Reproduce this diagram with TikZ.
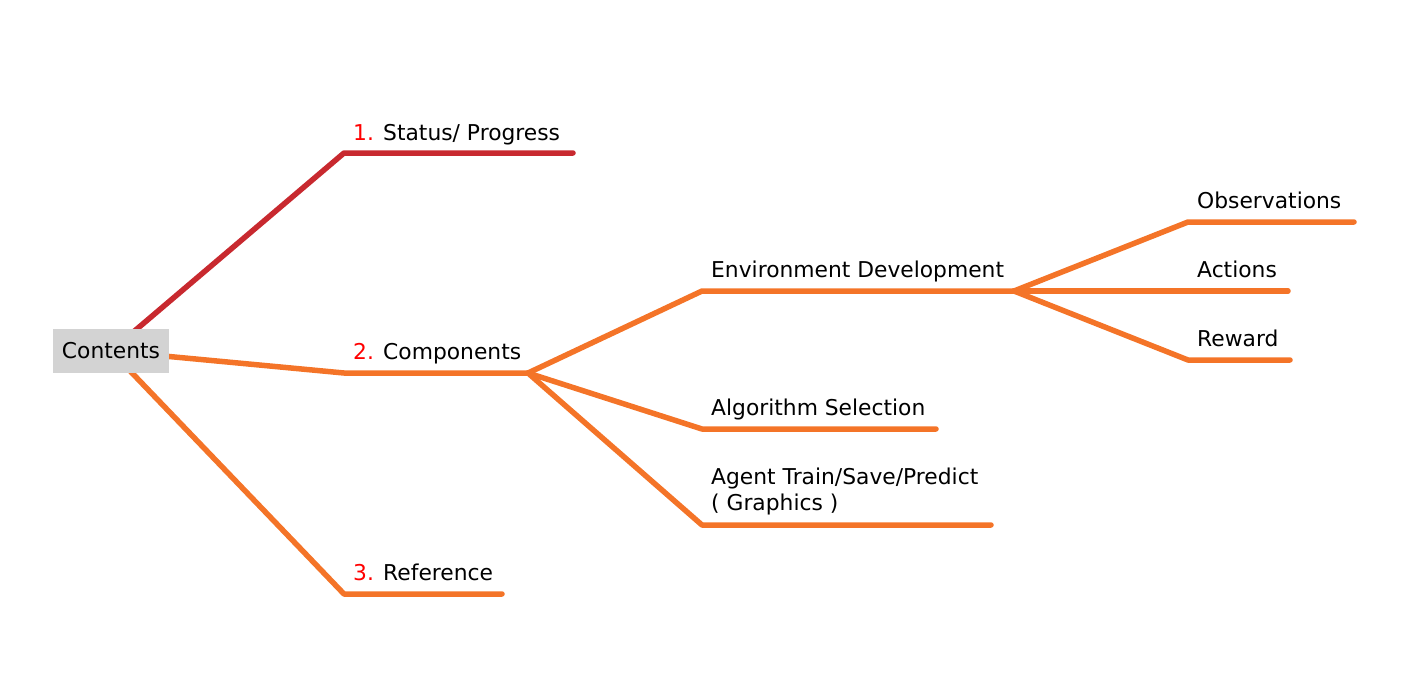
\documentclass[tikz,border=0pt]{standalone}
\usepackage{fontspec}
\setmainfont{DejaVu Sans}
\definecolor{branchred}{HTML}{C8292F}
\definecolor{branchorange}{HTML}{F47428}
\definecolor{numred}{HTML}{FF0000}
\definecolor{boxgray}{HTML}{D3D3D3}
\begin{document}
\begin{tikzpicture}[x=1pt,y=-1pt,
  branch/.style={line width=5.5pt,line cap=round,line join=round},
  lbl/.style={anchor=base west,inner sep=0pt,font=\fontsize{21.8}{26}\selectfont,text=black},
  rootbox/.style={fill=boxgray,inner sep=0pt,minimum width=116pt,minimum height=44pt,font=\fontsize{21.8}{26}\selectfont}]
\useasboundingbox (0,0) rectangle (1413,694);
% joints
\coordinate (root) at (111,351);
\coordinate (j1) at (344,153);  \coordinate (e1) at (573,153);
\coordinate (j2) at (344,373);  \coordinate (e2) at (528,373);
\coordinate (j3) at (344,594);  \coordinate (e3) at (502,594);
\coordinate (ja) at (702,291);  \coordinate (ea) at (1014,291);
\coordinate (jb) at (702,429);  \coordinate (eb) at (936,429);
\coordinate (jc) at (702,525);  \coordinate (ec) at (991,525);
\coordinate (jo) at (1188,222); \coordinate (eo) at (1354,222);
\coordinate (jx) at (1188,291); \coordinate (ex) at (1288,291);
\coordinate (jr) at (1188,360); \coordinate (er) at (1290,360);
% branches
\draw[branch,branchred] (root) -- (j1) -- (e1);
\draw[branch,branchorange] (root) -- (j2) -- (e2);
\draw[branch,branchorange] (root) -- (j3) -- (e3);
\draw[branch,branchorange] (e2) -- (ja) -- (ea);
\draw[branch,branchorange] (e2) -- (jb) -- (eb);
\draw[branch,branchorange] (e2) -- (jc) -- (ec);
\draw[branch,branchorange] (ea) -- (jo) -- (eo);
\draw[branch,branchorange] (ea) -- (jx) -- (ex);
\draw[branch,branchorange] (ea) -- (jr) -- (er);
% root node
\node[rootbox] (contents) at (root) {Contents};
% labels
\node[lbl] (t1) at (353,140) {\textcolor{numred}{1.} Status/ Progress};
\node[lbl] (t2) at (353,359) {\textcolor{numred}{2.} Components};
\node[lbl] (t3) at (353,580) {\textcolor{numred}{3.} Reference};
\node[lbl] (ta) at (711,277) {Environment Development};
\node[lbl] (tb) at (711,415) {Algorithm Selection};
\node[lbl,align=left] (tc) at (711,510) {Agent Train/Save/Predict\\( Graphics )};
\node[lbl] (to) at (1197,208) {Observations};
\node[lbl] (tx) at (1197,277) {Actions};
\node[lbl] (tr) at (1197,346) {Reward};
\end{tikzpicture}
\end{document}
